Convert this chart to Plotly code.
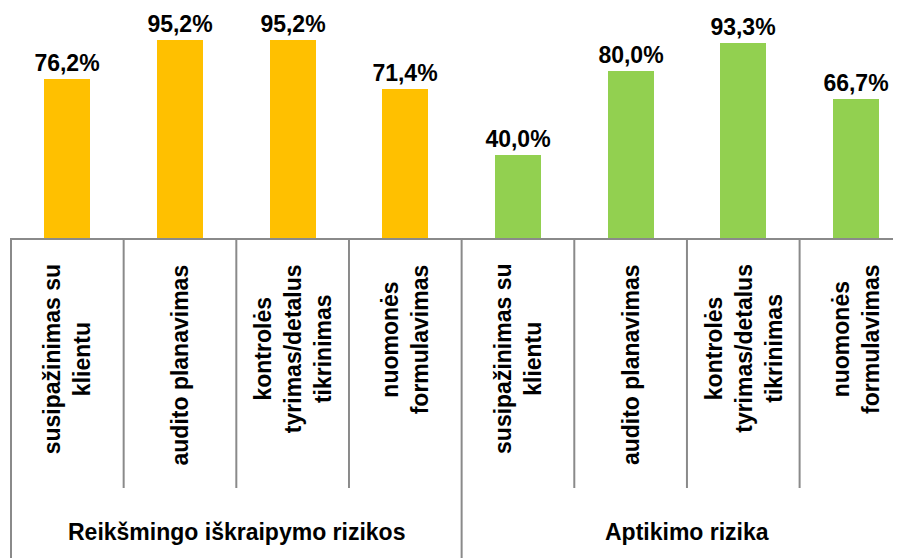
import plotly.graph_objects as go

groups = ["Reikšmingo iškraipymo rizikos", "Aptikimo rizika"]
stages = [
    "susipažinimas su<br>klientu",
    "audito planavimas",
    "kontrolės<br>tyrimas/detalus<br>tikrinimas",
    "nuomonės<br>formulavimas",
]
values_reiksmingo = [76.2, 95.2, 95.2, 71.4]
values_aptikimo = [40.0, 80.0, 93.3, 66.7]
colors = ["#FFC000", "#92D050"]

# page body has an 8px default margin, so the figure is shrunk by it
PAGE_OFF = 8
W, H = 901 - PAGE_OFF, 558 - PAGE_OFF
BASE = 238                      # page y of the category axis line
ML, MT = 11 - PAGE_OFF, 0
PLOT_H = BASE - PAGE_OFF - MT
MB = H - MT - PLOT_H
FONT = "Liberation Sans"
LINE = "#8a8a8a"


def ypaper(page_px):
    return (BASE - page_px) / PLOT_H


keys = [[f"{g}|{s}" for s in stages] for g in groups]
series = [values_reiksmingo, values_aptikimo]

fig = go.Figure()
for gi, g in enumerate(groups):
    fig.add_trace(go.Bar(
        x=keys[gi],
        y=series[gi],
        marker=dict(color=colors[gi], line=dict(width=0)),
        width=0.41,
        texttemplate="<b>%{y:.1f}%</b>",
        textposition="outside",
        constraintext="none",
        cliponaxis=False,
        textfont=dict(family=FONT, size=23, color="#000000"),
        showlegend=False,
        hoverinfo="skip",
    ))

all_keys = keys[0] + keys[1]
n = len(all_keys)

annotations = []
for gi, g in enumerate(groups):
    for si, s in enumerate(stages):
        annotations.append(dict(
            x=keys[gi][si], xref="x", y=ypaper(262), yref="paper",
            text=f"<b>{s}</b>", textangle=-90, showarrow=False,
            xanchor="center", yanchor="top", align="center",
            font=dict(family=FONT, size=23, color="#000000"),
        ))
    center = gi * len(stages) + (len(stages) - 1) / 2
    annotations.append(dict(
        x=center, xref="x", y=ypaper(532), yref="paper",
        text=f"<b>{g}</b>", showarrow=False,
        xanchor="center", yanchor="middle",
        font=dict(family=FONT, size=23, color="#000000"),
    ))

shapes = [dict(type="line", xref="paper", yref="paper", x0=0, x1=0,
               y0=0, y1=ypaper(560), line=dict(color=LINE, width=2))]
for i in range(1, n):
    bottom = ypaper(560) if i % len(stages) == 0 else ypaper(488)
    shapes.append(dict(type="line", xref="x", yref="paper",
                       x0=i - 0.5, x1=i - 0.5, y0=0, y1=bottom,
                       line=dict(color=LINE, width=2)))

fig.update_layout(
    width=W, height=H,
    margin=dict(l=ML, r=0, t=MT, b=MB),
    paper_bgcolor="white", plot_bgcolor="white",
    separators=",.",
    bargap=0,
    xaxis=dict(
        type="category", categoryorder="array", categoryarray=all_keys,
        range=[-0.5, 7.4], showticklabels=False, ticks="",
        showline=True, linecolor=LINE, linewidth=2, showgrid=False,
        zeroline=False, fixedrange=True,
    ),
    yaxis=dict(range=[0, PLOT_H / 2.085], visible=False, fixedrange=True),
    annotations=annotations,
    shapes=shapes,
    font=dict(family=FONT),
)

fig.write_html("out.html")
